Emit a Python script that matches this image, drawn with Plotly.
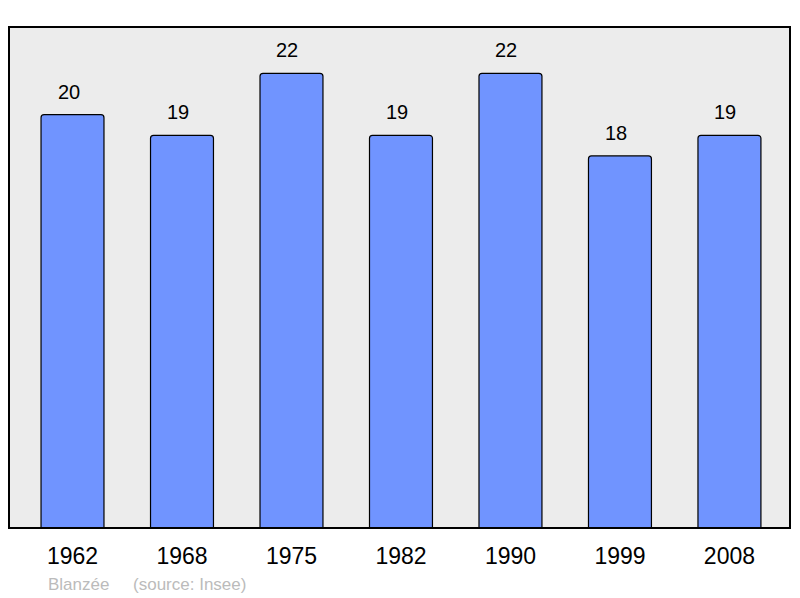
import plotly.graph_objects as go

years = ["1962", "1968", "1975", "1982", "1990", "1999", "2008"]
population = [20, 19, 22, 19, 22, 18, 19]
commune = "Blanzée"
source = "(source: Insee)"

fig = go.Figure()
fig.add_trace(go.Bar(
    x=years, y=population, width=0.575,
    marker=dict(color="#7094ff", line=dict(color="#000000", width=1.2), cornerradius=3),
    hoverinfo="skip",
))
for i, v in enumerate(population):
    fig.add_annotation(x=i, y=v, text=str(v), showarrow=False, yanchor="middle",
                       yshift=23, xshift=-4,
                       font=dict(family="Liberation Sans, Arial", size=20, color="#000"))

fig.add_annotation(xref="paper", yref="paper", x=0.0474, y=-0.112, xanchor="left", yanchor="middle",
                   text=commune + "&nbsp;&nbsp;&nbsp;&nbsp;&nbsp;" + source, showarrow=False,
                   font=dict(family="Liberation Sans, Arial", size=17, color="#bbbbbb"))

fig.add_shape(type="rect", xref="paper", yref="paper", x0=0, x1=1, y0=0, y1=1,
              line=dict(color="#000000", width=2), layer="above")

fig.update_layout(
    width=800, height=598,
    margin=dict(l=9, r=10, t=27, b=70),
    paper_bgcolor="#ffffff", plot_bgcolor="#ececec",
    showlegend=False,
    font=dict(family="Liberation Sans, Arial", color="#000"),
    xaxis=dict(type="category", range=[-0.58, 6.553], showgrid=False, zeroline=False,
               tickfont=dict(size=23), ticks="", ticklabelstandoff=12, fixedrange=True),
    yaxis=dict(range=[0, 24.24], showgrid=False, zeroline=False, showticklabels=False,
               ticks="", fixedrange=True),
)

fig.write_html("out.html", config={"displayModeBar": False},
               post_script="document.body.style.margin='0';")
